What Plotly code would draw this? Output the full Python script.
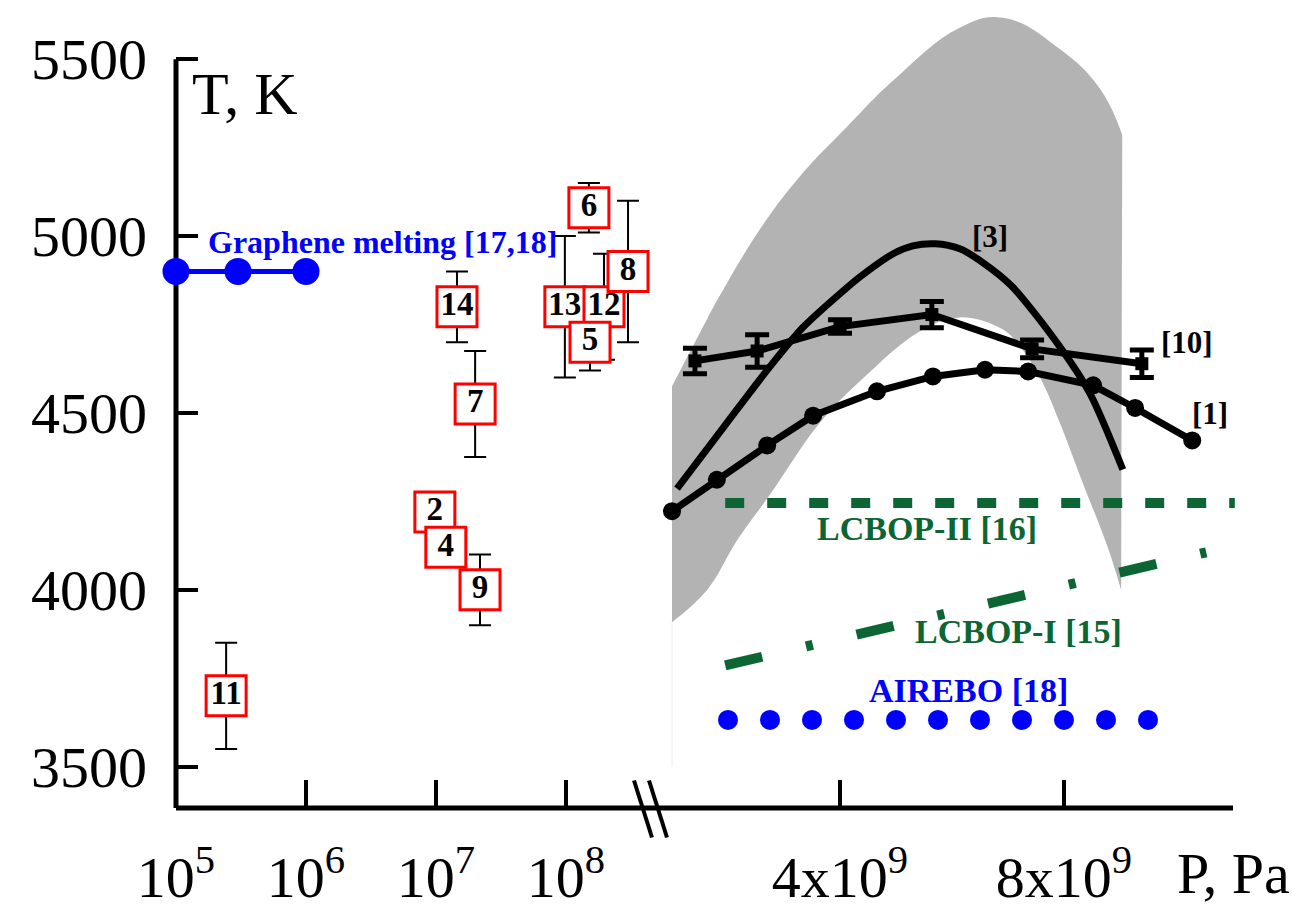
import plotly.graph_objects as go

# ---------------- data ----------------
# Graphene melting [17,18] (left, log-pressure panel)
graphene_P = [1e5, 3e5, 1e6]
graphene_T = [4900, 4900, 4900]

# Experimental points (boxed reference numbers) with error bars
exp_labels = ["11", "14", "7", "2", "4", "9", "6", "13", "12", "8", "5"]
exp_P = [2.43e5, 1.45e7, 2.0e7, 9.8e6, 1.19e7, 2.18e7, 1.50e8, 9.8e7, 1.96e8, 3.0e8, 1.53e8]
exp_T = [3700, 4800, 4525, 4220, 4120, 4000, 5080, 4800, 4800, 4900, 4700]
exp_err = [150, 100, 150, 0, 0, 100, 70, 200, 150, 200, 80]

# Gray band (right, linear-pressure panel), P in Pa
band_upper_P = [1.0e9, 1.64e9, 1.86e9, 2.57e9, 3.29e9, 4.13e9, 4.95e9, 6.14e9, 6.91e9, 7.93e9, 8.64e9, 9.04e9]
band_upper_T = [4575, 4769, 4833, 5019, 5170, 5310, 5440, 5589, 5617, 5528, 5417, 5286]
band_lower_P = [1.0e9, 1.63e9, 2.16e9, 2.75e9, 3.64e9, 4.36e9, 5.43e9, 6.14e9, 6.86e9, 7.13e9, 7.57e9, 7.93e9, 8.34e9, 8.77e9, 9.02e9]
band_lower_T = [3908, 4000, 4139, 4269, 4472, 4590, 4731, 4770, 4740, 4705, 4600, 4470, 4300, 4125, 4000]

# Curve [3]
ref3_P = [1.09e9, 1.98e9, 2.75e9, 3.34e9, 4.13e9, 4.36e9, 4.95e9, 5.30e9, 5.70e9, 6.14e9, 6.55e9, 7.07e9, 7.93e9, 8.46e9, 9.05e9]
ref3_T = [4286, 4472, 4631, 4742, 4855, 4885, 4950, 4972, 4978, 4964, 4925, 4858, 4686, 4556, 4340]

# Curve [10] with error bars
ref10_P = [1.41e9, 2.52e9, 4.0e9, 5.64e9, 7.43e9, 9.39e9]
ref10_T = [4647, 4675, 4744, 4778, 4681, 4639]
ref10_err = [36, 46, 19, 37, 25, 39]

# Curve [1]
ref1_P = [1.0e9, 1.80e9, 2.70e9, 3.52e9, 4.66e9, 5.66e9, 6.59e9, 7.36e9, 8.52e9, 9.27e9, 10.29e9]
ref1_T = [4222, 4311, 4408, 4492, 4561, 4603, 4622, 4617, 4578, 4514, 4422]

# LCBOP-II [16]
lcbop2_P = [1.95e9, 11.05e9]
lcbop2_T = [4245, 4245]

# LCBOP-I [15]
lcbop1_P = [1.95e9, 10.54e9]
lcbop1_T = [3786, 4106]

# AIREBO [18]
airebo_P = [2.0e9, 2.75e9, 3.5e9, 4.25e9, 5.0e9, 5.75e9, 6.5e9, 7.25e9, 8.0e9, 8.75e9, 9.5e9]
airebo_T = [3632] * 11

# Axis ticks
left_tickvals = [1e5, 1e6, 1e7, 1e8]
left_ticktext = ["10<sup>5</sup>", "10<sup>6</sup>", "10<sup>7</sup>", "10<sup>8</sup>"]
right_tickvals = [4e9, 8e9]
right_ticktext = ["4x10<sup>9</sup>", "8x10<sup>9</sup>"]
y_tickvals = [3500, 4000, 4500, 5000, 5500]

# ---------------- layout geometry ----------------
W, H = 1292, 920
ML, MR, MT, MB = 176, 52, 10, 98
PW = W - ML - MR
PH = H - MT - MB
BREAK_PX = 650
split = (BREAK_PX - ML) / PW
Y_RANGE = [3383, 5639]
SERIF = "Liberation Serif, Times New Roman, serif"
GREEN = "#0b6633"
BLUE = "#0000ff"


def px_x(px):
    return (px - ML) / PW


def px_y(py):
    return (H - MB - py) / PH


fig = go.Figure()

# gray band
fig.add_trace(go.Scatter(x=band_lower_P, y=band_lower_T, xaxis="x2", yaxis="y",
                         mode="lines", line=dict(width=0, color="rgba(0,0,0,0)", shape="spline", smoothing=1.1),
                         hoverinfo="skip"))
fig.add_trace(go.Scatter(x=band_upper_P, y=band_upper_T, xaxis="x2", yaxis="y",
                         mode="lines", line=dict(width=0, color="rgba(0,0,0,0)", shape="spline", smoothing=1.2),
                         fill="tonexty", fillcolor="rgb(179,179,179)", hoverinfo="skip"))
# faint vertical at band's left edge
fig.add_trace(go.Scatter(x=[band_lower_P[0], band_lower_P[0]], y=[band_lower_T[0], 3500], xaxis="x2", yaxis="y",
                         mode="lines", line=dict(width=1, color="#ececec"), hoverinfo="skip"))

# LCBOP-II
fig.add_trace(go.Scatter(x=lcbop2_P, y=lcbop2_T, xaxis="x2", yaxis="y", mode="lines",
                         line=dict(color=GREEN, width=10, dash="19px,23px"), cliponaxis=False))
# LCBOP-I
fig.add_trace(go.Scatter(x=lcbop1_P, y=lcbop1_T, xaxis="x2", yaxis="y", mode="lines",
                         line=dict(color=GREEN, width=10, dash="38px,45px,7px,45px"), cliponaxis=False))
# AIREBO
fig.add_trace(go.Scatter(x=airebo_P, y=airebo_T, xaxis="x2", yaxis="y", mode="markers",
                         marker=dict(color=BLUE, size=20)))

# [3]
fig.add_trace(go.Scatter(x=ref3_P, y=ref3_T, xaxis="x2", yaxis="y", mode="lines",
                         line=dict(color="black", width=7, shape="spline", smoothing=0.8)))
# [10]
fig.add_trace(go.Scatter(x=ref10_P, y=ref10_T, xaxis="x2", yaxis="y", mode="lines+markers",
                         line=dict(color="black", width=7),
                         marker=dict(color="black", size=13, symbol="square"),
                         error_y=dict(type="data", array=ref10_err, color="black", thickness=5, width=12)))
# [1]
fig.add_trace(go.Scatter(x=ref1_P, y=ref1_T, xaxis="x2", yaxis="y", mode="lines+markers",
                         line=dict(color="black", width=7),
                         marker=dict(color="black", size=18), cliponaxis=False))

# Graphene melting
fig.add_trace(go.Scatter(x=graphene_P, y=graphene_T, xaxis="x", yaxis="y", mode="lines+markers",
                         line=dict(color=BLUE, width=5), marker=dict(color=BLUE, size=27), cliponaxis=False))

# boxed experimental points
fig.add_trace(go.Scatter(x=exp_P, y=exp_T, xaxis="x", yaxis="y", mode="markers+text",
                         text=exp_labels, textposition="middle center",
                         textfont=dict(family=SERIF, size=33, color="black", weight="bold"),
                         marker=dict(symbol="square", size=40, color="white", line=dict(color="red", width=3)),
                         error_y=dict(type="data", array=exp_err, color="black", thickness=2, width=11),
                         cliponaxis=False))

axis_common = dict(showgrid=False, zeroline=False, showline=False, ticks="inside",
                   tickcolor="black", tickfont=dict(family=SERIF, size=58, color="black"))

fig.update_layout(
    width=W, height=H,
    margin=dict(l=ML, r=MR, t=MT, b=MB),
    paper_bgcolor="white", plot_bgcolor="white",
    showlegend=False,
    xaxis=dict(type="log", range=[5, 5 + (BREAK_PX - ML) / 130.0], domain=[0, split], anchor="y",
               tickvals=left_tickvals, ticktext=left_ticktext, ticklen=28, tickwidth=4,
               ticklabelstandoff=30, **axis_common),
    xaxis2=dict(type="linear", range=[4e9 + (BREAK_PX - 840) / 56 * 1e9, 4e9 + (ML + PW - 840) / 56 * 1e9],
                domain=[split, 1], anchor="y",
                tickvals=right_tickvals, ticktext=right_ticktext, ticklen=28, tickwidth=4,
                ticklabelstandoff=30, **axis_common),
    yaxis=dict(range=Y_RANGE, domain=[0, 1], anchor="x", tickvals=y_tickvals,
               ticklen=22, tickwidth=4, ticklabelstandoff=28, **axis_common),
)

# axis lines and axis break marks
shapes = [
    dict(type="line", xref="paper", yref="y", x0=0, x1=0, y0=Y_RANGE[0], y1=5500,
         line=dict(color="black", width=5), layer="below"),
    dict(type="line", xref="paper", yref="paper", x0=0, x1=px_x(1233), y0=0, y1=0,
         line=dict(color="black", width=5), layer="below"),
    dict(type="line", xref="paper", yref="paper", x0=px_x(634), x1=px_x(652), y0=px_y(794), y1=px_y(852),
         line=dict(color="black", width=4)),
    dict(type="line", xref="paper", yref="paper", x0=px_x(649), x1=px_x(667), y0=px_y(794), y1=px_y(852),
         line=dict(color="black", width=4)),
]
fig.update_layout(shapes=shapes)

annots = [
    dict(text="T, K", xref="paper", yref="paper", x=px_x(190), y=px_y(95), xanchor="left", yanchor="middle",
         font=dict(family=SERIF, size=60, color="black")),
    dict(text="P, Pa", xref="paper", yref="paper", x=px_x(1233), y=px_y(889), xanchor="center", yanchor="middle",
         font=dict(family=SERIF, size=58, color="black")),
    dict(text="<b>Graphene melting [17,18]</b>", xref="x", yref="y", x=6.585, y=4983,
         font=dict(family=SERIF, size=32, color=BLUE)),
    dict(text="<b>[3]</b>", xref="x2", yref="y", x=6.68e9, y=5000, font=dict(family=SERIF, size=31, color="black")),
    dict(text="<b>[10]</b>", xref="x2", yref="y", x=10.2e9, y=4700, font=dict(family=SERIF, size=31, color="black")),
    dict(text="<b>[1]</b>", xref="x2", yref="y", x=10.6e9, y=4497, font=dict(family=SERIF, size=31, color="black")),
    dict(text="<b>LCBOP-II [16]</b>", xref="x2", yref="y", x=5.55e9, y=4172, font=dict(family=SERIF, size=34, color=GREEN)),
    dict(text="<b>LCBOP-I [15]</b>", xref="x2", yref="y", x=7.18e9, y=3881, font=dict(family=SERIF, size=34, color=GREEN)),
    dict(text="<b>AIREBO [18]</b>", xref="x2", yref="y", x=6.29e9, y=3714, font=dict(family=SERIF, size=34, color=BLUE)),
]
for a in annots:
    a.setdefault("showarrow", False)
fig.update_layout(annotations=annots)

fig.write_html("out.html")
